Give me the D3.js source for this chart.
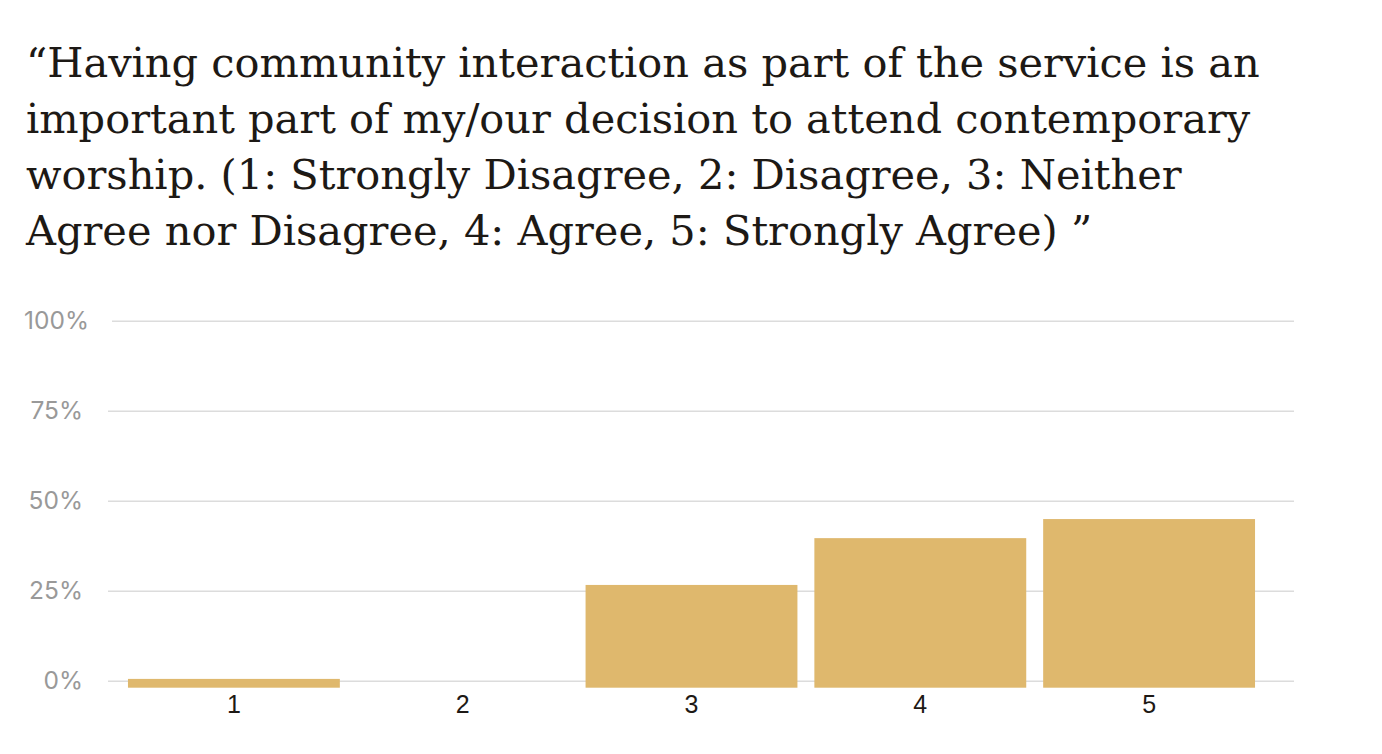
<!DOCTYPE html>
<html>
<head>
<meta charset="utf-8">
<script src="https://cdn.jsdelivr.net/npm/d3@7"></script>
<style>
  html, body { margin: 0; padding: 0; background: #fff; }
  svg { display: block; }
</style>
</head>
<body>
<svg id="chart" width="1382" height="754"></svg>
<script>
// Likert response shares.
const titleLines = [
  "“Having community interaction as part of the service is an",
  "important part of my/our decision to attend contemporary",
  "worship. (1: Strongly Disagree, 2: Disagree, 3: Neither",
  "Agree nor Disagree, 4: Agree, 5: Strongly Agree) ”",
];
const categories = ["1", "2", "3", "4", "5"];
const shares = [0.005, 0, 0.266, 0.396, 0.449];
const yTicks = [0, 0.25, 0.5, 0.75, 1];

const W = 1382, H = 754;
const GRID_LEFT = 108, GRID_RIGHT = 1294;
const Y0 = 680.7, Y1 = 320.7;
const BAR_DROP = 7;           // bars hang a little below the 0% line
const BAR_COLOR = "#dfb86d";

const svg = d3.select("#chart");

// title
svg.append("text")
  .attr("x", 26).attr("y", 77)
  .style("font", "41.5px 'DejaVu Serif', serif")
  .style("fill", "#1d1915")
  .selectAll("tspan").data(titleLines).enter().append("tspan")
  .attr("x", 26)
  .attr("dy", (d, i) => i === 0 ? 0 : 56)
  .text((d) => d);

const x = d3.scaleBand().domain(categories)
  .range([119.5, 1263.5]).paddingInner(0.074).paddingOuter(0.037);
const y = d3.scaleLinear().domain([0, 1]).range([Y0, Y1]);

// gridlines + y labels
const yAxis = svg.append("g")
  .attr("transform", `translate(${GRID_RIGHT},0)`)
  .call(d3.axisLeft(y).tickValues(yTicks).tickFormat(d3.format(".0%"))
    .tickSize(GRID_RIGHT - GRID_LEFT).tickPadding(25));
yAxis.select(".domain").remove();
yAxis.selectAll(".tick line").attr("stroke", "#dcdcdc").attr("stroke-width", 1.5);
yAxis.selectAll(".tick text")
  .style("font", "24.5px Inter, 'Open Sans', sans-serif")
  .style("fill", "#999");
// the 100% label sits a touch further right, with its gridline starting later
yAxis.selectAll(".tick").filter((d) => d === 1).each(function () {
  const t = d3.select(this);
  t.select("line").attr("x2", -(GRID_RIGHT - GRID_LEFT - 4));
  t.select("text").attr("x", -(GRID_RIGHT - GRID_LEFT) - 19);
});

// bars
svg.append("g").selectAll("rect").data(categories.map((c, i) => ({ c, v: shares[i] })))
  .enter().filter((d) => d.v > 0).append("rect")
  .attr("x", (d) => x(d.c))
  .attr("width", x.bandwidth())
  .attr("y", (d) => y(d.v))
  .attr("height", (d) => y(0) - y(d.v) + BAR_DROP)
  .attr("fill", BAR_COLOR);

// x labels
const xAxis = svg.append("g")
  .attr("transform", `translate(0,${Y0 + BAR_DROP})`)
  .call(d3.axisBottom(x).tickSize(0).tickPadding(8));
xAxis.select(".domain").remove();
xAxis.selectAll(".tick text")
  .style("font", "25px 'Liberation Sans', Arial, sans-serif")
  .style("fill", "#1d1915");
</script>
</body>
</html>
